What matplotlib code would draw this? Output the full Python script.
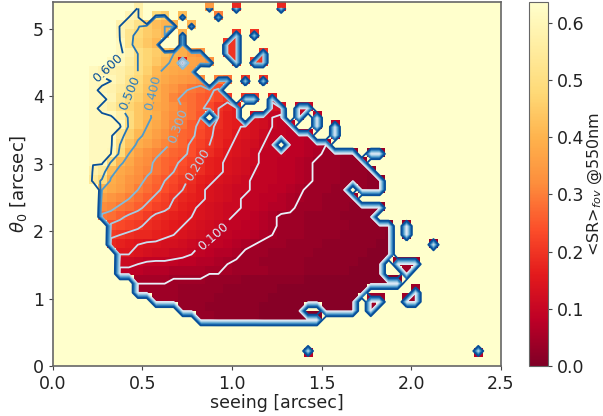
import numpy as np
import matplotlib
matplotlib.use("Agg")
import matplotlib.pyplot as plt
from matplotlib.colors import Normalize

# grid of the seeing / theta0 map
n_cols = 50
n_rows = 40
seeing_max = 2.5
theta_max = 5.4
bg_value = 1.0  # cells without a usable result
vmax = 0.636

# cell codes: position in this string = SR in hundredths, '.' = no result
codes = "0123456789abcdefghijklmnopqrstuvwxyzABCDEFGHIJKLMNOPQRSTUVWXYZ"

# (row, first column, cell codes), row 0 is at the bottom
sr_cells = [
    (39, 9, "V"), (39, 17, "z"), (39, 20, "i"), (39, 25, "i"),
    (38, 8, "XV"), (38, 11, "MJ"), (38, 14, "G"), (38, 18, "u"),
    (37, 7, "WUPJGEE"), (37, 15, "E"),
    (36, 7, "XQMJHE"), (36, 14, "E"), (36, 20, "k"), (36, 22, "k"),
    (35, 7, "ZQLIF"), (35, 14, "D"), (35, 19, "kk"),
    (34, 7, "ZWOLJHEDzx"), (34, 19, "kk"), (34, 23, "k"),
    (33, 6, "ZYUOLIFDgBA"), (33, 17, "x"), (33, 20, "k"), (33, 22, "mk"),
    (32, 4, "ZXWVSOKFDCBA"),
    (31, 4, "ZZYVQMIECAzyw"), (31, 18, "us"), (31, 21, "k"), (31, 23, "k"),
    (30, 4, "ZXWTPLHDAyvtsqo"),
    (29, 4, "ZZXRNKGDAvtsqpnl"), (29, 21, "kk"), (29, 24, "g"),
    (28, 4, "ZXUPLIFCAxusqnkig"), (28, 24, "dc"), (28, 27, "aa"),
    (27, 4, "ZZZVNIFDzwusp.jhg"), (27, 22, "dba9"), (27, 27, "9"), (27, 29, "8"),
    (26, 4, "ZZZZNIECzvtqoljhgedca98"), (26, 29, "8"), (26, 31, "8"),
    (25, 4, "ZZZRKFDAxurqnlihfedb99887"), (25, 31, "6"),
    (24, 4, "ZZZOHDByvtromkigedca9.88775"),
    (23, 4, "ZZYMEAxvtrqoljhfedb99988764433"), (23, 35, "33"),
    (22, 4, "ZZNFCywtrqomjhgedcb998876444333"),
    (21, 4, "VSGCAxvtrpnljhgedca9988764443332"),
    (20, 4, "SNDBywtrpnljhgedcb999887644433322"),
    (19, 5, "ECAxusqomkigedcbb99887644433.322"),
    (18, 5, "Aywusqomkihgedcb9988765443333"),
    (17, 5, "wvtsqomljhgedcbb9987764443332222"),
    (16, 5, "tsqonljihgfedcb9987644433332222"),
    (15, 6, "onmljihgfedcb9988764443333322222"), (15, 39, "3"),
    (14, 6, "lkjiihgfedcb99887654443333222221"), (14, 39, "3"),
    (13, 6, "ihgfeeddcba998765444333322222211"), (13, 42, "4"),
    (12, 7, "ffedccbba9877644433333222222111"),
    (11, 7, "bba999988776544433333222222111"), (11, 38, "444"),
    (10, 7, "888777666655544443333222221111"), (10, 39, "4"),
    (9, 9, "555544443333222222211111111111"),
    (8, 9, "44444333332222221111111111"), (8, 40, "4"),
    (7, 11, "44433332222221111111111"), (7, 35, "44"), (7, 39, "44"),
    (6, 14, "33322222211111"), (6, 30, "1111"), (6, 35, "4"),
    (5, 16, "33222221111111"),
    (1, 28, "8"), (1, 47, "8"),
]

plain_levels = [0.05, 0.15, 0.25]
label_levels = [0.1, 0.2, 0.3, 0.4, 0.5, 0.6]
label_spots = [(0.889, 1.94), (0.822, 2.98), (0.72, 3.53),
               (0.577, 4.05), (0.42, 4.07), (0.264, 4.61)]

sr = np.full((n_rows, n_cols), bg_value)
for row, col, cells in sr_cells:
    for i, ch in enumerate(cells):
        if ch != ".":
            sr[row, col + i] = codes.index(ch) / 100

dx = seeing_max / n_cols
dy = theta_max / n_rows
rows = np.arange(n_rows)
x = (np.arange(n_cols) + 0.5) * dx
y = (rows + 0.5) * dy
# contour grid does not sit exactly on the image cells, offset in cell units
y_contour = y + np.interp(rows, [3, 4, 9, 14, 24], [0.15, -0.45, -0.45, -0.1, -0.2]) * dy

W, H = 603, 416
fig = plt.figure(figsize=(W / 100, H / 100), dpi=100)
ax = fig.add_axes([52.7 / W, 1 - 366 / H, 448 / W, 364 / H])
cax = fig.add_axes([529 / W, 1 - 366 / H, 18.7 / W, 364 / H])

im = ax.imshow(sr, origin="lower", extent=[0, seeing_max, 0, theta_max],
               aspect="auto", cmap="YlOrRd_r", vmin=0, vmax=vmax,
               interpolation="nearest")
line_norm = Normalize(0.0, 0.68)
ax.contour(x, y_contour, sr, levels=plain_levels, cmap="Blues", norm=line_norm, linewidths=1.3)
cs = ax.contour(x, y_contour, sr, levels=label_levels, cmap="Blues", norm=line_norm, linewidths=1.3)
ax.clabel(cs, manual=label_spots, fmt="%.3f", fontsize=9)

ax.set_xlim(0, seeing_max)
ax.set_ylim(0, theta_max)
ax.set_xticks([0, 0.5, 1.0, 1.5, 2.0, 2.5])
ax.set_yticks([0, 1, 2, 3, 4, 5])
ax.tick_params(labelsize=12.5, color="#444444", length=3, labelcolor="#222222")
ax.set_xlabel("seeing [arcsec]", fontsize=12.5, labelpad=1, color="#222222")
ax.set_ylabel(r"$\theta_0$ [arcsec]", fontsize=13, labelpad=3, color="#222222")
for s in ax.spines.values():
    s.set_color("#666666")
    s.set_linewidth(1.2)

cb = fig.colorbar(im, cax=cax)
cb.set_ticks([0, 0.1, 0.2, 0.3, 0.4, 0.5, 0.6])
cb.ax.tick_params(labelsize=12.5, color="#444444", length=3, labelcolor="#222222")
cb.set_label(r"<SR>$_{fov}$ @550nm", fontsize=11.5, labelpad=1, color="#222222")
cb.outline.set_edgecolor("#666666")

fig.savefig("out.png", dpi=100)
